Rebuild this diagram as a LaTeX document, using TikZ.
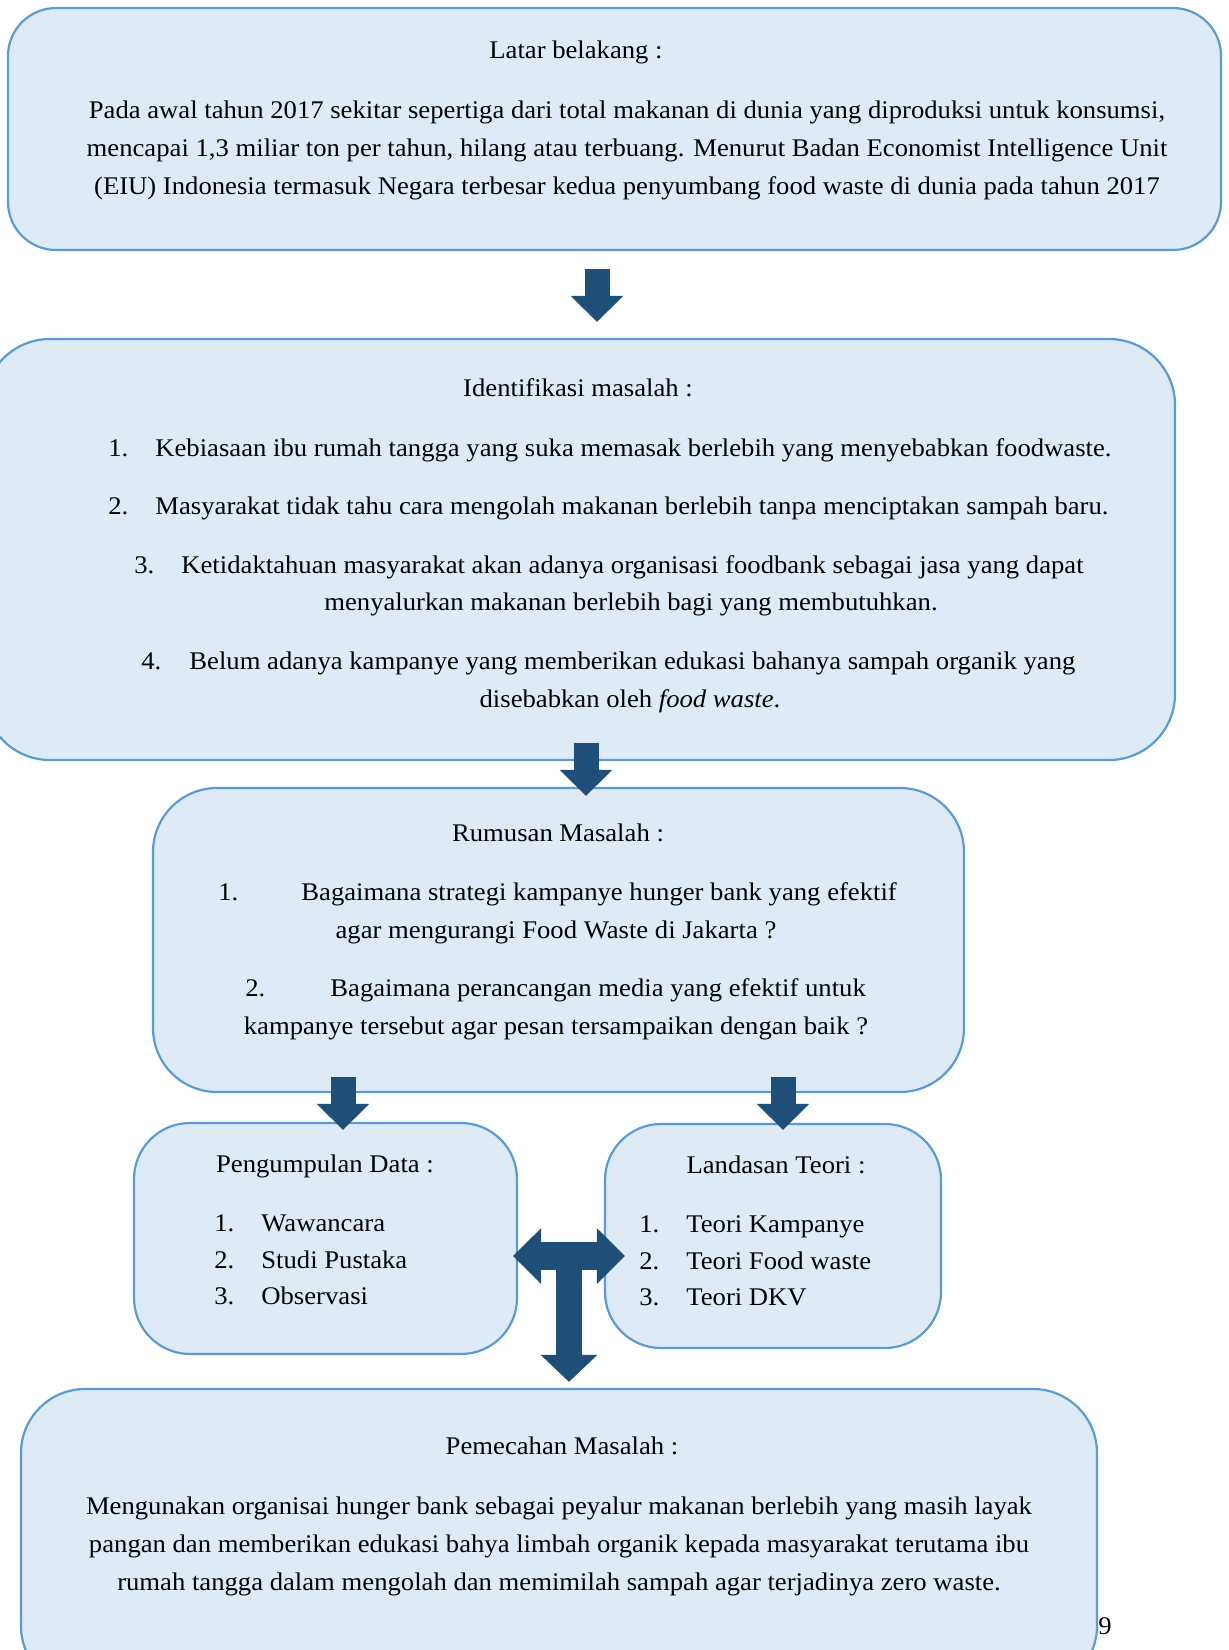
\documentclass[tikz,border=0pt]{standalone}
\usepackage{fontspec}
\setmainfont{Liberation Serif}[FakeStretch=1.05]
\usetikzlibrary{arrows.meta}

\definecolor{boxfill}{HTML}{DEEBF7}
\definecolor{boxline}{HTML}{5B9BD5}
\definecolor{arrowblue}{HTML}{1F4E79}

\tikzset{
  panel/.style={draw=boxline, fill=boxfill, line width=1.1pt, inner sep=0pt},
  txt/.style={inner sep=0pt, font=\fontsize{12.7}{19}\selectfont},
  blockarrow/.style={draw=arrowblue, line width=12.5pt, -{Triangle[width=25.5pt,length=13pt]}},
  twoway/.style={draw=arrowblue, line width=14pt, {Triangle[width=27pt,length=14pt]}-{Triangle[width=27pt,length=14pt]}}
}

\begin{document}
\begin{tikzpicture}[x=0.5pt,y=-0.5pt]
  \useasboundingbox (0,0) rectangle (1228,1650);

  % panels
  \node[panel, rounded corners=24pt, minimum width=606.5pt, minimum height=121pt] (latar) at (614.5,129) {};
  \node[panel, rounded corners=33pt, minimum width=595.5pt, minimum height=210.5pt] (ident) at (579.5,549.5) {};
  \node[panel, rounded corners=32pt, minimum width=405.5pt, minimum height=152pt] (rumusan) at (558.5,940) {};
  \node[panel, rounded corners=28pt, minimum width=191.5pt, minimum height=115.5pt] (data) at (325.5,1238.5) {};
  \node[panel, rounded corners=28pt, minimum width=168pt, minimum height=112pt] (teori) at (773,1236) {};
  \node[panel, rounded corners=32pt, minimum width=538pt, minimum height=150.5pt] (solusi) at (559,1539.5) {};

  % latar belakang
  \node[txt, anchor=mid] (latartitle) at (576,54) {Latar belakang :};
  \node[txt, align=center] (latartext) at (627,150) {Pada awal tahun 2017 sekitar sepertiga dari total makanan di dunia yang diproduksi untuk konsumsi,\\
    mencapai 1,3 miliar ton per tahun, hilang atau terbuang. Menurut Badan Economist Intelligence Unit\\
    (EIU) Indonesia termasuk Negara terbesar kedua penyumbang food waste di dunia pada tahun 2017};

  % identifikasi masalah
  \node[txt, anchor=mid] (identtitle) at (578,392) {Identifikasi masalah :};
  \node[txt, anchor=mid west] (i1n) at (108,452) {1.};
  \node[txt, anchor=mid west] (i1t) at (155,452) {Kebiasaan ibu rumah tangga yang suka memasak berlebih yang menyebabkan foodwaste.};
  \node[txt, anchor=mid west] (i2n) at (108,510) {2.};
  \node[txt, anchor=mid west] (i2t) at (155,510) {Masyarakat tidak tahu cara mengolah makanan berlebih tanpa menciptakan sampah baru.};
  \node[txt, anchor=mid west] (i3n) at (134,569) {3.};
  \node[txt, anchor=mid west] (i3t) at (181,569) {Ketidaktahuan masyarakat akan adanya organisasi foodbank sebagai jasa yang dapat};
  \node[txt, anchor=mid] (i3c) at (631,606) {menyalurkan makanan berlebih bagi yang membutuhkan.};
  \node[txt, anchor=mid west] (i4n) at (141,665) {4.};
  \node[txt, anchor=mid west] (i4t) at (189,665) {Belum adanya kampanye yang memberikan edukasi bahanya sampah organik yang};
  \node[txt, anchor=mid] (i4c) at (630,703) {disebabkan oleh \textit{food waste}.};

  % rumusan masalah
  \node[txt, anchor=mid] (rumusantitle) at (558,837) {Rumusan Masalah :};
  \node[txt, anchor=mid west] (r1n) at (218,896) {1.};
  \node[txt, anchor=mid west] (r1t) at (301,896) {Bagaimana strategi kampanye hunger bank yang efektif};
  \node[txt, anchor=mid] (r1c) at (556,934) {agar mengurangi Food Waste di Jakarta ?};
  \node[txt, anchor=mid west] (r2n) at (245,992) {2.};
  \node[txt, anchor=mid west] (r2t) at (330,992) {Bagaimana perancangan media yang efektif untuk};
  \node[txt, anchor=mid] (r2c) at (556,1030) {kampanye tersebut agar pesan tersampaikan dengan baik ?};

  % pengumpulan data
  \node[txt, anchor=mid] (datatitle) at (325,1168) {Pengumpulan Data :};
  \node[txt, anchor=mid west] (d1n) at (214,1227) {1.};
  \node[txt, anchor=mid west] (d1t) at (261,1227) {Wawancara};
  \node[txt, anchor=mid west] (d2n) at (214,1264) {2.};
  \node[txt, anchor=mid west] (d2t) at (261,1264) {Studi Pustaka};
  \node[txt, anchor=mid west] (d3n) at (214,1300) {3.};
  \node[txt, anchor=mid west] (d3t) at (261,1300) {Observasi};

  % landasan teori
  \node[txt, anchor=mid] (teorititle) at (776,1169) {Landasan Teori :};
  \node[txt, anchor=mid west] (t1n) at (639,1228) {1.};
  \node[txt, anchor=mid west] (t1t) at (686,1228) {Teori Kampanye};
  \node[txt, anchor=mid west] (t2n) at (639,1265) {2.};
  \node[txt, anchor=mid west] (t2t) at (686,1265) {Teori Food waste};
  \node[txt, anchor=mid west] (t3n) at (639,1301) {3.};
  \node[txt, anchor=mid west] (t3t) at (686,1301) {Teori DKV};

  % pemecahan masalah
  \node[txt, anchor=mid] (solusititle) at (562,1450) {Pemecahan Masalah :};
  \node[txt, align=center] (solusitext) at (559,1546) {Mengunakan organisai hunger bank sebagai peyalur makanan berlebih yang masih layak\\
    pangan dan memberikan edukasi bahya limbah organik kepada masyarakat terutama ibu\\
    rumah tangga dalam mengolah dan memimilah sampah agar terjadinya zero waste.};

  \node[txt, anchor=mid west] (pagenum) at (1098,1630) {9};

  % arrows
  \coordinate (colA) at (597,0);
  \coordinate (colB) at (586,0);
  \coordinate (colC) at (343,0);
  \coordinate (colD) at (783,0);
  \coordinate (tee) at (569,1256);
  \draw[blockarrow, shorten <=9pt, shorten >=8pt] (latar.south -| colA) -- (ident.north -| colA);
  \draw[blockarrow, shorten <=-9pt, shorten >=-4.5pt] (ident.south -| colB) -- (rumusan.north -| colB);
  \draw[blockarrow, shorten <=-8pt, shorten >=-4pt] (rumusan.south -| colC) -- (data.north -| colC);
  \draw[blockarrow, shorten <=-8pt, shorten >=-3.5pt] (rumusan.south -| colD) -- (teori.north -| colD);
  \draw[twoway, shorten <=-2.5pt, shorten >=-10.5pt] (data.east |- tee) -- (teori.west |- tee);
  \draw[blockarrow, line width=13pt, -{Triangle[width=27.5pt,length=13.5pt]}, shorten >=3pt] (tee) -- (tee |- solusi.north);
\end{tikzpicture}
\end{document}
